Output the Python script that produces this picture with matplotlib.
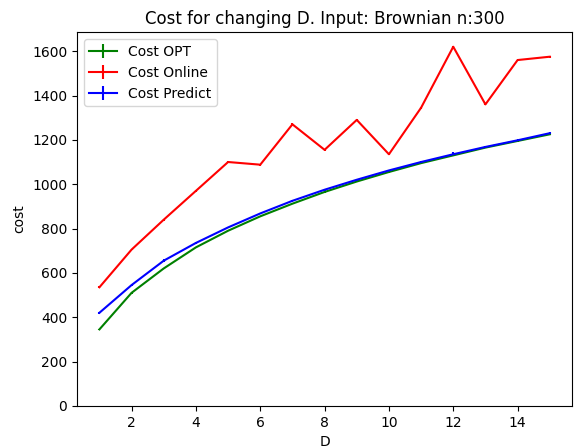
import matplotlib
matplotlib.use('Agg')
import matplotlib.pyplot as plt
import numpy as np

D = list(range(1, 16))
cost_opt = [345, 510, 620, 715, 790, 855, 912, 965, 1012, 1055, 1095, 1130, 1165, 1195, 1225]
cost_online = [535, 705, 840, 970, 1100, 1088, 1270, 1155, 1290, 1135, 1345, 1620, 1360, 1560, 1575]
cost_predict = [420, 545, 655, 735, 805, 868, 925, 975, 1020, 1062, 1100, 1135, 1168, 1198, 1230]
err_opt = [3, 4, 3, 3, 3, 3, 3, 3, 3, 3, 3, 3, 3, 3, 3]
err_online = [4, 4, 4, 4, 4, 4, 4, 4, 4, 4, 4, 4, 4, 4, 4]
err_predict = [4, 4, 6, 4, 4, 4, 4, 4, 5, 4, 4, 8, 4, 5, 5]

fig = plt.figure(figsize=(5.74, 4.46), dpi=100)
ax = fig.add_subplot(111)
fig.subplots_adjust(left=0.134, right=0.997, top=0.928, bottom=0.090)

ax.errorbar(D, cost_opt, yerr=err_opt, color='green', label='Cost OPT')
ax.errorbar(D, cost_online, yerr=err_online, color='red', label='Cost Online')
ax.errorbar(D, cost_predict, yerr=err_predict, color='blue', label='Cost Predict')

ax.set_ylim(0, 1686)
ax.set_title('Cost for changing D. Input: Brownian n:300')
ax.set_xlabel('D')
ax.set_ylabel('cost')
ax.legend(loc='upper left')

fig.savefig('out.png', dpi=100)
